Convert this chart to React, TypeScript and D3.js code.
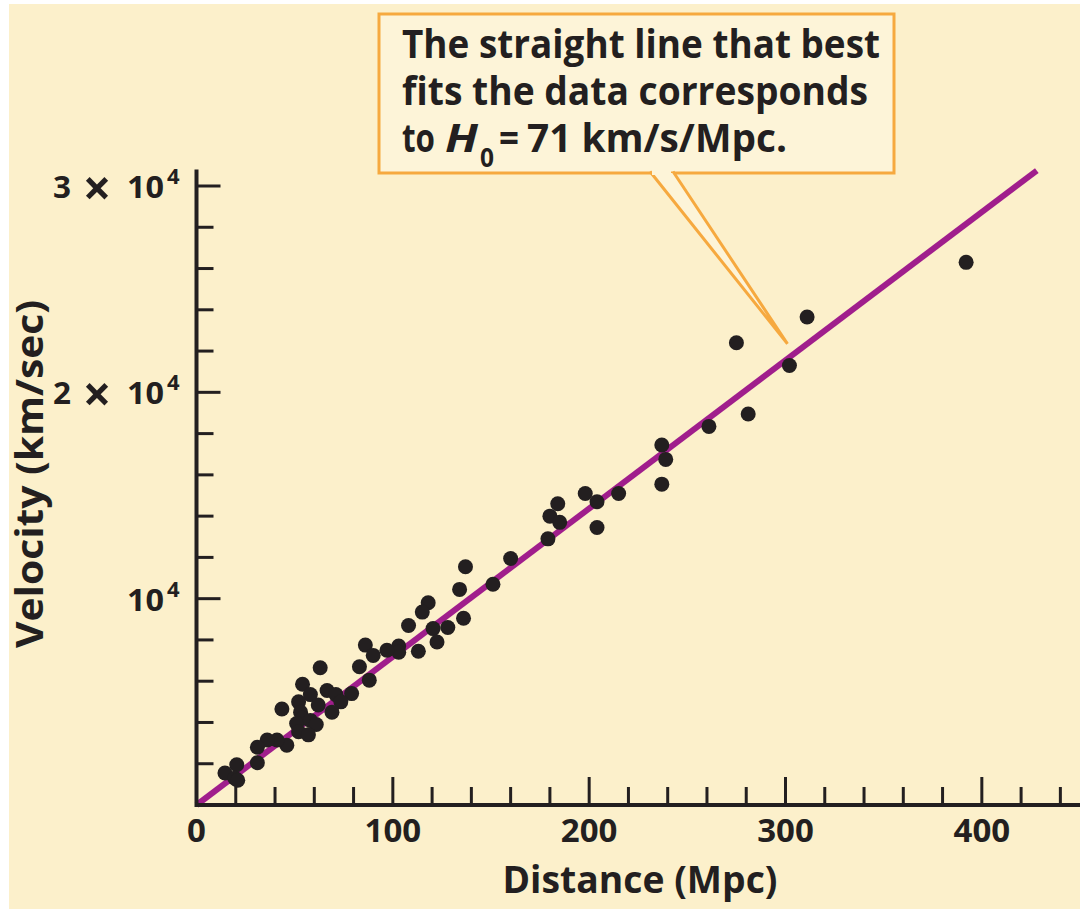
import * as d3 from 'd3';

// distance (Mpc) and recession velocity (km/s)
const distance = [
  392, 311, 275, 302, 281, 261, 237, 239, 237, 215, 198, 204, 204, 184, 180, 185, 179,
  160, 151, 137, 134, 136, 128, 120.5, 122.5, 118, 115, 108, 113, 103, 103, 97, 86, 90,
  83, 88, 63, 54, 58, 66.5, 71, 79, 73.5, 69, 62, 52, 53, 43.5, 54, 51, 58, 61, 52, 57,
  46, 41, 36, 31, 31, 20.5, 14.5, 19.5, 21,
];
const velocity = [
  26300, 23650, 22400, 21300, 18950, 18350, 17450, 16750, 15550, 15100, 15100, 14700, 13450,
  14600, 14000, 13700, 12900, 11950, 10700, 11550, 10450, 9050, 8600, 8550, 7900, 9800, 9350,
  8700, 7450, 7700, 7400, 7500, 7750, 7250, 6700, 6050, 6650, 5850, 5350, 5550, 5350, 5400,
  5000, 4500, 4850, 5000, 4500, 4650, 4200, 3950, 4100, 3900, 3550, 3400, 2900, 3150, 3150,
  2800, 2050, 1950, 1550, 1300, 1200,
];

// best-fit line, H0 = 71 km/s/Mpc
const fitDistance = [0, 428];
const fitVelocity = [0, 30750];

const xMajor = [0, 100, 200, 300, 400];
const xMinor = d3.range(20, 450, 20);
const yMajor = [10000, 20000, 30000];
const yMinor = d3.range(2000, 30001, 2000);
const yMultipliers = ['', '2', '3']; // "n × 10^4"

const BG = '#FCF0CB';
const BOX_FILL = '#FDF4D8';
const ORANGE = '#F6A93F';
const INK = '#231F20';
const LINE = '#A01E8C';
const FONT = '"Open Sans", "Noto Sans", sans-serif';

export default function App() {
  const W = 1082;
  const H = 911;
  const x = d3.scaleLinear().domain([0, 450]).range([196.5, 1080]);
  const y = d3.scaleLinear().domain([0, 30000]).range([805, 186]);
  const yTop = 30800;

  const pts = distance.map((d, i) => ({ d, v: velocity[i] }));
  const fit = d3.line<number>()
    .x((d) => x(d))
    .y((d, i) => y(fitVelocity[i]));

  // callout
  const box = { x: 379, y: 14, w: 515, h: 159 };
  const tip = [x(301), y(22350)];
  const base1 = 650;
  const base2 = 673;

  return (
    <div style={{ position: 'absolute', left: 0, top: 0 }}>
      <svg width={W} height={H} style={{ display: 'block', background: '#fff' }}>
        <rect x={9} y={4} width={1071} height={905} fill={BG} />

        {/* fit line */}
        <path d={fit(fitDistance) || ''} stroke={LINE} strokeWidth={6} fill="none" />

        {/* points */}
        <g fill={INK}>
          {pts.map((p, i) => (
            <circle key={i} cx={x(p.d)} cy={y(p.v)} r={7.5} />
          ))}
        </g>

        {/* axes */}
        <g stroke={INK} strokeLinecap="butt">
          <line x1={x(0)} x2={x(450)} y1={y(0)} y2={y(0)} strokeWidth={4} />
          <line x1={x(0)} x2={x(0)} y1={y(0) + 2} y2={y(yTop)} strokeWidth={4} />
          {xMinor.filter((v) => xMajor.indexOf(v) < 0).map((v) => (
            <line key={'xm' + v} x1={x(v)} x2={x(v)} y1={y(0)} y2={y(0) - 18} strokeWidth={3} />
          ))}
          {xMajor.slice(1).map((v) => (
            <line key={'xM' + v} x1={x(v)} x2={x(v)} y1={y(0)} y2={y(0) - 28} strokeWidth={3} />
          ))}
          {yMinor.filter((v) => yMajor.indexOf(v) < 0).map((v) => (
            <line key={'ym' + v} x1={x(0)} x2={x(0) + 17} y1={y(v)} y2={y(v)} strokeWidth={3} />
          ))}
          {yMajor.map((v) => (
            <line key={'yM' + v} x1={x(0)} x2={x(0) + 24} y1={y(v)} y2={y(v)} strokeWidth={3} />
          ))}
        </g>

        {/* tick labels */}
        <g fontFamily={FONT} fontWeight={700} fill={INK}>
          {xMajor.map((v) => (
            <text key={'xl' + v} x={x(v)} y={842} fontSize={33} textAnchor="middle">{v}</text>
          ))}
          {yMajor.map((v, i) => (
            <g key={'yl' + v}>
              {yMultipliers[i] && (
                <>
                  <text x={53} y={y(v) + 12} fontSize={31} textLength={18} lengthAdjust="spacingAndGlyphs">
                    {yMultipliers[i]}
                  </text>
                  <text x={97} y={y(v) + 20} fontSize={50} textAnchor="middle">{'\u00d7'}</text>
                </>
              )}
              <text x={127} y={y(v) + 12} fontSize={31} textLength={37} lengthAdjust="spacingAndGlyphs">10</text>
              <text x={167} y={y(v) - 2} fontSize={22}>4</text>
            </g>
          ))}
          <text x={640} y={893} fontSize={38} textAnchor="middle" textLength={275} lengthAdjust="spacingAndGlyphs">
            Distance (Mpc)
          </text>
          <text
            transform={`translate(43, ${474}) rotate(-90)`}
            fontSize={38}
            textAnchor="middle"
            textLength={348}
            lengthAdjust="spacingAndGlyphs"
          >
            Velocity (km/sec)
          </text>
        </g>

        {/* callout */}
        <rect x={box.x} y={box.y} width={box.w} height={box.h} fill={BOX_FILL} stroke={ORANGE} strokeWidth={3} />
        <path
          d={`M${base1},${box.y + box.h} L${tip[0]},${tip[1]} L${base2},${box.y + box.h} Z`}
          fill={BOX_FILL}
          stroke="none"
        />
        <path
          d={`M${base1},${box.y + box.h - 1.5} L${tip[0]},${tip[1]} L${base2},${box.y + box.h - 1.5}`}
          fill="none"
          stroke={ORANGE}
          strokeWidth={3}
          strokeLinejoin="miter"
        />
        <line x1={base1 + 2} x2={base2 - 2} y1={box.y + box.h} y2={box.y + box.h} stroke={BOX_FILL} strokeWidth={4} />

        <g fontFamily={FONT} fontWeight={700} fill={INK} fontSize={39}>
          <text x={402} y={58} textLength={478} lengthAdjust="spacingAndGlyphs">The straight line that best</text>
          <text x={402} y={105} textLength={466} lengthAdjust="spacingAndGlyphs">fits the data corresponds</text>
          <text x={402} y={152} textLength={33} lengthAdjust="spacingAndGlyphs">to</text>
          <text x={445} y={152} fontStyle="italic" textLength={33} lengthAdjust="spacingAndGlyphs">H</text>
          <text x={480} y={167} fontSize={27} textLength={14} lengthAdjust="spacingAndGlyphs">0</text>
          <text x={499} y={152} textLength={20} lengthAdjust="spacingAndGlyphs">=</text>
          <text x={527} y={152} textLength={260} lengthAdjust="spacingAndGlyphs">71 km/s/Mpc.</text>
        </g>
      </svg>
    </div>
  );
}
